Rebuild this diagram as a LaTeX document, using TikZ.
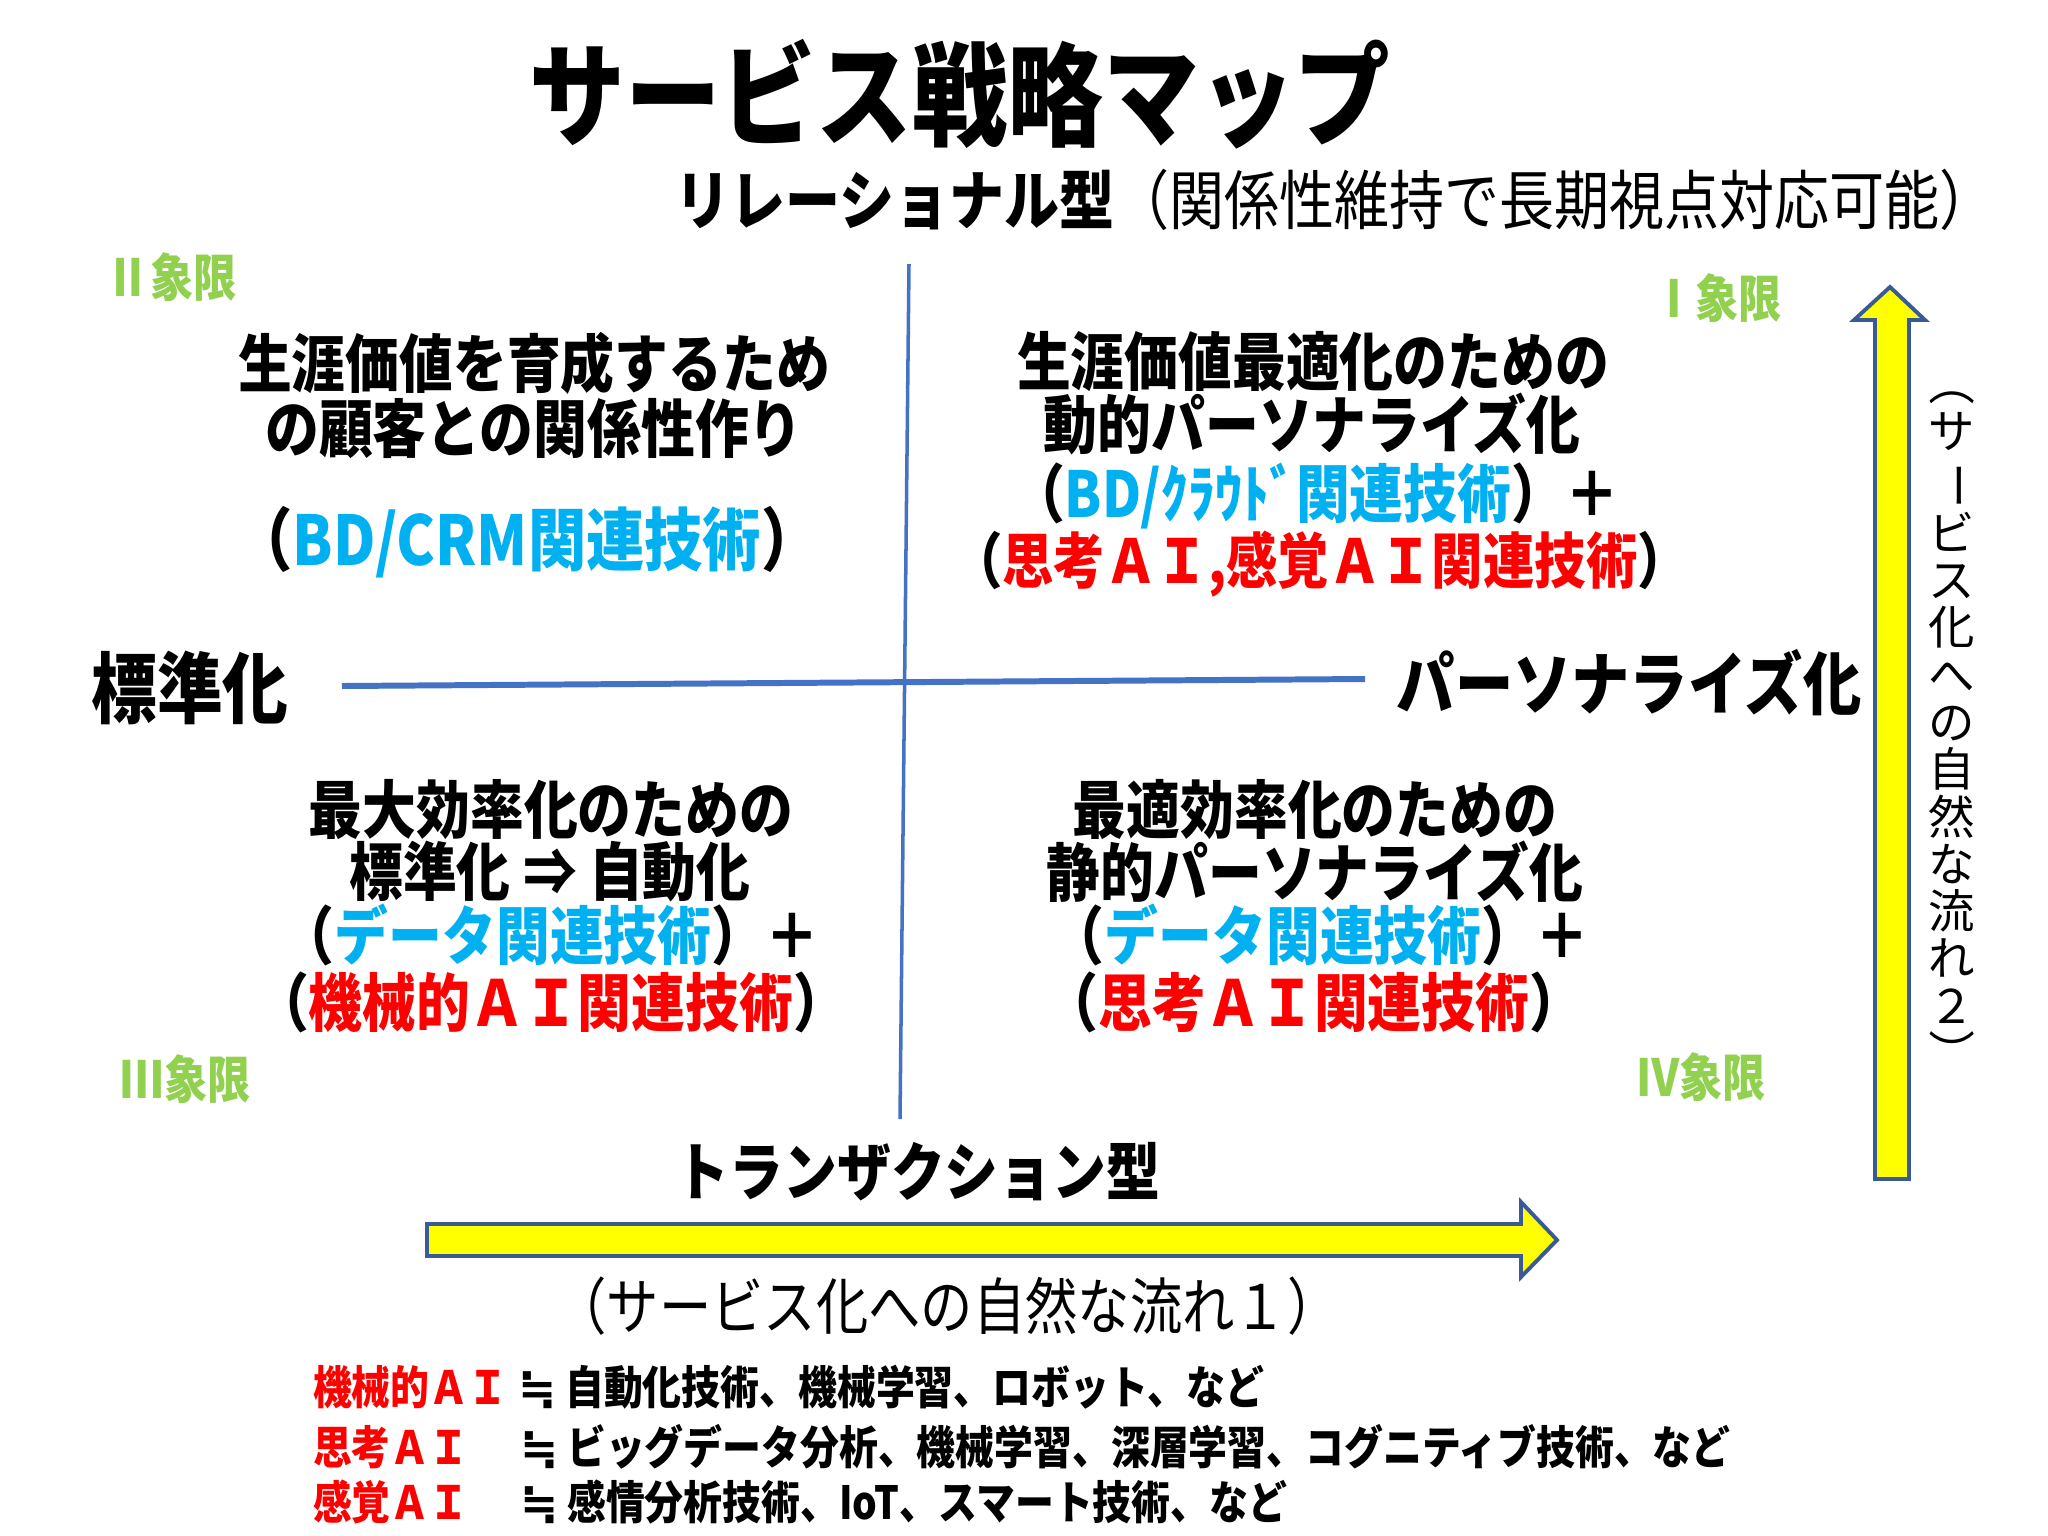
\documentclass[tikz,border=0pt]{standalone}
\usepackage{fontspec}
\newfontfamily\jp[FakeStretch=0.85]{Noto Sans CJK JP}
\newfontfamily\jpn{Noto Sans CJK JP}
\newfontfamily\sym{DejaVu Sans}
\definecolor{qgreen}{HTML}{92D050}
\definecolor{cyantxt}{HTML}{00B0F0}
\definecolor{redtxt}{HTML}{FF0000}
\definecolor{axisblue}{HTML}{4472C4}
\definecolor{arrowedge}{HTML}{3A5A95}
\definecolor{arrowfill}{HTML}{FFFF00}
\tikzset{
  base/.style={inner sep=0pt, outer sep=0pt},
  ttl/.style={base, font=\jp\bfseries\fontsize{32}{38}\selectfont},
  subttl/.style={base, font=\jp\fontsize{18.4}{22}\selectfont},
  quad/.style={base, text=qgreen, font=\jp\bfseries\fontsize{14.5}{17}\selectfont},
  axlab/.style={base, font=\jp\bfseries\fontsize{#1}{24}\selectfont},
  qtxt/.style={base, font=\jp\bfseries\fontsize{18}{21}\selectfont},
  flowtxt/.style={base, font=\jp\fontsize{17.5}{20}\selectfont},
  flowv/.style={base, align=center, font=\jpn\fontsize{13.2}{13.45}\selectfont},
  legtxt/.style={base, anchor=west, font=\jp\bfseries\fontsize{13}{16}\selectfont},
  axisline/.style={draw=axisblue},
  bigarrow/.style={draw=arrowedge, fill=arrowfill, line width=1.1pt, line join=miter},
}
\newcommand{\cy}[1]{{\color{cyantxt}#1}}
\newcommand{\rd}[1]{{\color{redtxt}#1}}
\newcommand{\vpar}[1]{\rotatebox[origin=c]{-90}{#1}}
\newcommand{\approxim}{{\sym\bfseries ≒}}
\begin{document}
\begin{tikzpicture}[x=0.01cm,y=-0.01cm]
\useasboundingbox[fill=white] (0,0) rectangle (2048,1536);

% title
\node[ttl] (title) at (960,94) {サービス戦略マップ};
\node[subttl] (subtitle) at (1335,200) {{\bfseries リレーショナル型}（関係性維持で長期視点対応可能）};

% quadrant labels
\node[quad] (q2) at (172,277) {Ⅱ象限};
\node[quad] (q1) at (1717,298) {Ⅰ象限};
\node[quad] (q3) at (186,1079) {Ⅲ象限};
\node[quad] (q4) at (1701,1077) {Ⅳ象限};

% axes
\coordinate (vtop) at (909,264);
\coordinate (vbot) at (900,1119);
\coordinate (hleft) at (342,686);
\coordinate (hright) at (1365,679);
\draw[axisline, line width=1.0pt] (vtop) -- (vbot);
\draw[axisline, line width=1.7pt] (hleft) -- (hright);

\node[axlab=22] (std) at (190,688) {標準化};
\node[axlab=19.5] (pers) at (1629,683) {パーソナライズ化};

% quadrant II
\node[qtxt] (q2a) at (534,363) {生涯価値を育成するため};
\node[qtxt] (q2b) at (534,428) {の顧客との関係性作り};
\node[qtxt, font=\jp\bfseries\fontsize{19.5}{23}\selectfont] (q2c) at (527,542) {（\cy{BD/CRM関連技術}）};

% quadrant I
\node[qtxt] (q1a) at (1313,362) {生涯価値最適化のための};
\node[qtxt] (q1b) at (1312,424) {動的パーソナライズ化};
\node[qtxt] (q1c) at (1315,496) {（\cy{BD/ｸﾗｳﾄﾞ関連技術}）＋};
\node[qtxt, font=\jp\bfseries\fontsize{17.2}{21}\selectfont] (q1d) at (1320,564) {（\rd{思考ＡＩ,感覚ＡＩ関連技術}）};

% quadrant III
\node[qtxt] (q3a) at (551,810) {最大効率化のための};
\node[qtxt] (q3b) at (550,872) {標準化 ⇒ 自動化};
\node[qtxt] (q3c) at (550,935) {（\cy{データ関連技術}）＋};
\node[qtxt] (q3d) at (551,1002) {（\rd{機械的ＡＩ関連技術}）};

% quadrant IV
\node[qtxt] (q4a) at (1315,810) {最適効率化のための};
\node[qtxt] (q4b) at (1315,872) {静的パーソナライズ化};
\node[qtxt] (q4c) at (1320,935) {（\cy{データ関連技術}）＋};
\node[qtxt] (q4d) at (1314,1002) {（\rd{思考ＡＩ関連技術}）};

% transaction
\node[qtxt] (trans) at (918,1172) {トランザクション型};

% horizontal arrow
\draw[bigarrow] (427,1224) -- (1521,1224) -- (1521,1202) -- (1557,1240) -- (1521,1277) -- (1521,1256) -- (427,1256) -- cycle;
\node[flowtxt] (flow1) at (947,1306) {（サービス化への自然な流れ１）};

% vertical arrow
\draw[bigarrow] (1875,1179) -- (1875,320) -- (1854,320) -- (1890,287) -- (1925,320) -- (1909,320) -- (1909,1179) -- cycle;
\node[flowv] (flow2) at (1952,718) {\vpar{（}\\サ\\\vpar{ー}\\ビ\\ス\\化\\へ\\の\\自\\然\\な\\流\\れ\\２\\\vpar{）}};

% legend
\node[legtxt, text=redtxt] (l1) at (313,1387) {機械的ＡＩ};
\node[legtxt] (l1t) at (518,1387) {\approxim\ 自動化技術、機械学習、ロボット、など};
\node[legtxt, text=redtxt] (l2) at (313,1447) {思考ＡＩ};
\node[legtxt] (l2t) at (520,1447) {\approxim\ ビッグデータ分析、機械学習、深層学習、コグニティブ技術、など};
\node[legtxt, text=redtxt] (l3) at (313,1502) {感覚ＡＩ};
\node[legtxt] (l3t) at (520,1502) {\approxim\ 感情分析技術、IoT、スマート技術、など};
\end{tikzpicture}
\end{document}
